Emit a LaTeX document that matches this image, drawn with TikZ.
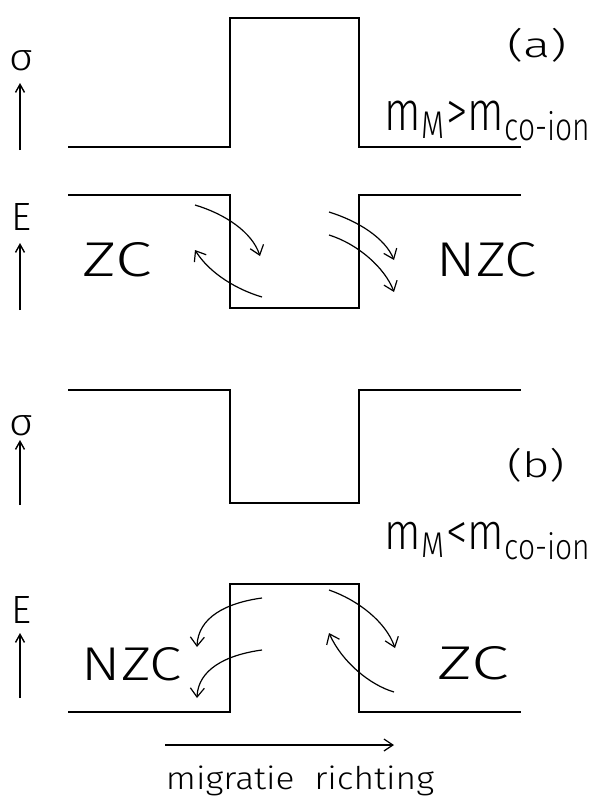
\documentclass[tikz,border=0pt]{standalone}
\usepackage{fontspec}
\setmainfont{Fira Sans Light}
\usepackage{graphicx}
\usetikzlibrary{arrows.meta}
\begin{document}
\begin{tikzpicture}[x=1pt,y=-1pt,
  trace/.style={line width=1.6pt, line join=miter},
  flow/.style={line width=1.2pt, -{Straight Barb[length=9pt,width=14pt,line width=1.2pt]}},
  axis/.style={line width=1.4pt, -{Straight Barb[length=8pt,width=9pt,line width=1.4pt]}},
  lbl/.style={inner sep=0pt, anchor=center}]
\useasboundingbox (0,0) rectangle (597,800);

% ---------- (a) sigma trace ----------
\draw[trace] (68,147) -- (230,147) -- (230,18) -- (359,18) -- (359,147) -- (521,147);
% ---------- (a) E trace ----------
\draw[trace] (68,195) -- (230,195) -- (230,308) -- (359,308) -- (359,195) -- (521,195);
% ---------- (b) sigma trace ----------
\draw[trace] (68,390) -- (230,390) -- (230,503) -- (359,503) -- (359,390) -- (521,390);
% ---------- (b) E trace ----------
\draw[trace] (68,712) -- (230,712) -- (230,584) -- (359,584) -- (359,712) -- (521,712);

% ---------- axis labels ----------
\node[lbl] (sigA) at (21.5,61) {\resizebox{24pt}{20pt}{σ}};
\coordinate (sigAb) at (20,150);
\coordinate (sigAt) at (20,83);
\draw[axis] (sigAb) -- (sigAt);

\node[lbl] (eA) at (22,217) {\resizebox{20pt}{27pt}{E}};
\coordinate (eAb) at (20,310);
\coordinate (eAt) at (20,243);
\draw[axis] (eAb) -- (eAt);

\node[lbl] (sigB) at (21.5,426) {\resizebox{24pt}{20pt}{σ}};
\coordinate (sigBb) at (20,505);
\coordinate (sigBt) at (20,440);
\draw[axis] (sigBb) -- (sigBt);

\node[lbl] (eB) at (22,610) {\resizebox{20pt}{27pt}{E}};
\coordinate (eBb) at (20,698);
\coordinate (eBt) at (20,633);
\draw[axis] (eBb) -- (eBt);

% ---------- case labels ----------
\node[lbl] (labA) at (537,45) {\resizebox*{60pt}{34pt}{(a)}};
\node[lbl] (condA) at (488.5,121) {\resizebox*{207pt}{40pt}{m\textsubscript{M}>m\textsubscript{co-ion}}};
\node[lbl] (labB) at (536,465) {\resizebox*{58pt}{34pt}{(b)}};
\node[lbl] (condB) at (488.5,541) {\resizebox*{207pt}{37pt}{m\textsubscript{M}<m\textsubscript{co-ion}}};

% ---------- zone labels ----------
\node[lbl] (zcA) at (117.5,260) {\resizebox{69pt}{34pt}{ZC}};
\node[lbl] (nzcA) at (487,260) {\resizebox{100pt}{34pt}{NZC}};
\node[lbl] (nzcB) at (132,664) {\resizebox{100pt}{33pt}{NZC}};
\node[lbl] (zcB) at (473,663) {\resizebox{71pt}{33pt}{ZC}};

% ---------- (a) flux arrows ----------
\coordinate (a1s) at (195,205); \coordinate (a1e) at (260,256);
\draw[flow] (a1s) .. controls (225,214) and (252,232) .. (a1e);
\coordinate (a2s) at (262,297); \coordinate (a2e) at (195,250);
\draw[flow] (a2s) .. controls (238,290) and (210,274) .. (a2e);
\coordinate (a3s) at (329,212); \coordinate (a3e) at (394,260);
\draw[flow] (a3s) .. controls (358,221) and (385,238) .. (a3e);
\coordinate (a4s) at (329,235); \coordinate (a4e) at (394,292);
\draw[flow] (a4s) .. controls (358,244) and (385,268) .. (a4e);

% ---------- (b) flux arrows ----------
\coordinate (b1s) at (262,598); \coordinate (b1e) at (197,647);
\draw[flow] (b1s) .. controls (225,603) and (198,618) .. (b1e);
\coordinate (b2s) at (262,650); \coordinate (b2e) at (197,698);
\draw[flow] (b2s) .. controls (225,655) and (198,670) .. (b2e);
\coordinate (b3s) at (329,590); \coordinate (b3e) at (395,648);
\draw[flow] (b3s) .. controls (358,600) and (386,622) .. (b3e);
\coordinate (b4s) at (394,692); \coordinate (b4e) at (329,633);
\draw[flow] (b4s) .. controls (370,685) and (342,662) .. (b4e);

% ---------- migration direction ----------
\coordinate (migS) at (165,745);
\coordinate (migE) at (394,745);
\draw[line width=1.2pt, -{Straight Barb[length=9pt,width=12pt,line width=1.2pt]}] (migS) -- (migE);
\node[lbl] (migT) at (300,781) {\resizebox*{268pt}{30pt}{migratie\ \ richting}};
\end{tikzpicture}
\end{document}
